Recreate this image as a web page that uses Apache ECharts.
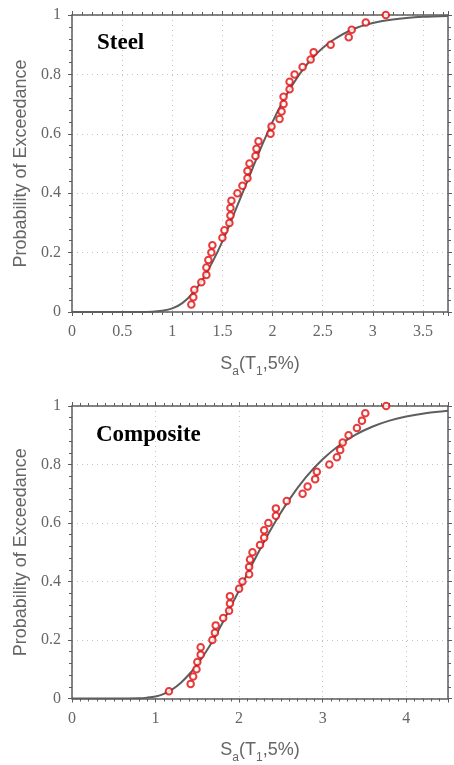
<!DOCTYPE html>
<html>
<head>
<meta charset="utf-8">
<script src="https://cdn.jsdelivr.net/npm/echarts@6/dist/echarts.min.js"></script>
<style>
  html, body { margin: 0; padding: 0; background: #fff; }
  #chart { width: 454px; height: 765px; }
</style>
</head>
<body>
<div id="chart"></div>
<script>
var steelX = [1.19, 1.21, 1.22, 1.29, 1.34, 1.34, 1.36, 1.39, 1.40, 1.50,
  1.52, 1.57, 1.58, 1.58, 1.59, 1.65, 1.70, 1.75, 1.75, 1.77,
  1.83, 1.84, 1.86, 1.98, 1.99, 2.07, 2.09, 2.11, 2.11, 2.17,
  2.17, 2.22, 2.30, 2.38, 2.41, 2.58, 2.76, 2.79, 2.93, 3.13]
var steelY = [0.025, 0.05, 0.075, 0.1, 0.125, 0.15, 0.175, 0.2, 0.225, 0.25,
  0.275, 0.3, 0.325, 0.35, 0.375, 0.4, 0.425, 0.45, 0.475, 0.5,
  0.525, 0.55, 0.575, 0.6, 0.625, 0.65, 0.675, 0.7, 0.725, 0.75,
  0.775, 0.8, 0.825, 0.85, 0.875, 0.9, 0.925, 0.95, 0.975, 1.0]

var compX = [1.16, 1.42, 1.45, 1.49, 1.50, 1.54, 1.54, 1.68, 1.71, 1.72,
  1.81, 1.88, 1.89, 1.89, 2.00, 2.04, 2.12, 2.12, 2.13, 2.16,
  2.25, 2.30, 2.30, 2.35, 2.44, 2.44, 2.57, 2.76, 2.82, 2.91,
  2.93, 3.08, 3.17, 3.21, 3.24, 3.31, 3.41, 3.47, 3.51, 3.76]
var compY = steelY.slice()

// fitted curves
var steelCurveX = [0, 0.5, 0.8, 0.9, 1.0, 1.1, 1.2, 1.3, 1.4, 1.5, 1.6, 1.7, 1.8,
  1.9, 2.0, 2.1, 2.2, 2.3, 2.4, 2.5, 2.6, 2.8, 3.0, 3.2, 3.5, 3.75]
var steelCurveY = [0, 0, 0.001, 0.004, 0.012, 0.03, 0.062, 0.108, 0.168, 0.238, 0.318, 0.4, 0.483,
  0.565, 0.64, 0.707, 0.765, 0.815, 0.856, 0.889, 0.915, 0.952, 0.973, 0.985, 0.994, 0.997]

var compCurveX = [0, 0.5, 0.8, 0.9, 1.0, 1.1, 1.2, 1.3, 1.4, 1.5, 1.6, 1.7, 1.8, 1.9,
  2.0, 2.2, 2.4, 2.6, 2.8, 3.0, 3.2, 3.4, 3.6, 3.8, 4.0, 4.25, 4.5]
var compCurveY = [0, 0, 0.001, 0.003, 0.007, 0.016, 0.031, 0.053, 0.082, 0.117, 0.158, 0.205, 0.258, 0.314,
  0.37, 0.483, 0.588, 0.68, 0.757, 0.818, 0.866, 0.903, 0.93, 0.95, 0.964, 0.976, 0.984]

var panelNames = ['Steel', 'Composite']
var xMax = [3.75, 4.5]
var xStep = [0.5, 1]
var xMinorSplit = [5, 10]

function zip (xs, ys) {
  return xs.map(function (x, i) { return [x, ys[i]] })
}

var axisColor = '#5c5c5c'
var labelFont = { fontFamily: 'Liberation Serif', fontSize: 16, color: '#666' }

function xAxes (g) {
  var common = {
    type: 'value', gridIndex: g, min: 0, max: xMax[g], interval: xStep[g],
    axisLine: { show: true, onZero: false, lineStyle: { color: axisColor, width: 1.5 } },
    axisTick: { show: true, inside: false, length: 4, lineStyle: { color: axisColor } },
    minorTick: { show: true, splitNumber: xMinorSplit[g], length: 3, lineStyle: { color: axisColor } }
  }
  var bottom = Object.assign({}, common, {
    position: 'bottom',
    name: '{m|S}{s|a}{m|(T}{s|1}{m|,5%)}',
    nameLocation: 'middle',
    nameGap: 42,
    nameTextStyle: {
      rich: {
        m: { fontFamily: 'Liberation Sans', fontSize: 18, color: '#666', lineHeight: 20 },
        s: { fontFamily: 'Liberation Sans', fontSize: 12, color: '#666', lineHeight: 20, padding: [15, 0, 0, 0] }
      }
    },
    axisLabel: Object.assign({ margin: 12, showMaxLabel: false }, labelFont),
    splitLine: { show: true, lineStyle: { color: '#c4c4c4', type: [1, 4], width: 1 } }
  })
  var top = Object.assign({}, common, {
    position: 'top', axisLabel: { show: false }, splitLine: { show: false }
  })
  return [bottom, top]
}

function yAxes (g) {
  var common = {
    type: 'value', gridIndex: g, min: 0, max: 1, interval: 0.2,
    axisLine: { show: true, onZero: false, lineStyle: { color: axisColor, width: 1.5 } },
    axisTick: { show: true, inside: false, length: 4, lineStyle: { color: axisColor } },
    minorTick: { show: true, splitNumber: 5, length: 3, lineStyle: { color: axisColor } }
  }
  var left = Object.assign({}, common, {
    position: 'left',
    name: 'Probability of Exceedance',
    nameLocation: 'middle',
    nameGap: 38,
    nameTextStyle: { fontFamily: 'Liberation Sans', fontSize: 18, color: '#666' },
    axisLabel: Object.assign({ margin: 11 }, labelFont),
    splitLine: { show: true, lineStyle: { color: '#c4c4c4', type: [1, 4], width: 1 } }
  })
  var right = Object.assign({}, common, {
    position: 'right', axisLabel: { show: false }, splitLine: { show: false }
  })
  return [left, right]
}

var chart = echarts.init(document.getElementById('chart'), null, { renderer: 'canvas' })

chart.setOption({
  animation: false,
  backgroundColor: '#fff',
  title: [
    { text: panelNames[0], left: 92, top: 27, textStyle: { fontFamily: 'Liberation Serif', fontWeight: 'bold', fontSize: 23, color: '#000' } },
    { text: panelNames[1], left: 91, top: 419, textStyle: { fontFamily: 'Liberation Serif', fontWeight: 'bold', fontSize: 23, color: '#000' } }
  ],
  grid: [
    { left: 72, right: 6, top: 15, height: 297 },
    { left: 72, right: 6, top: 406, height: 297 }
  ],
  xAxis: xAxes(0).concat(xAxes(1)),
  yAxis: yAxes(0).concat(yAxes(1)),
  series: [
    {
      name: 'Steel fit', type: 'line', xAxisIndex: 0, yAxisIndex: 0,
      data: zip(steelCurveX, steelCurveY), showSymbol: false, smooth: 0.3,
      lineStyle: { color: '#5e5e5e', width: 2 }, z: 2
    },
    {
      name: 'Steel', type: 'scatter', xAxisIndex: 0, yAxisIndex: 0,
      data: zip(steelX, steelY), symbol: 'emptyCircle', symbolSize: 6.5,
      itemStyle: { color: '#e20a0a', borderWidth: 2 }, z: 3
    },
    {
      name: 'Composite fit', type: 'line', xAxisIndex: 2, yAxisIndex: 2,
      data: zip(compCurveX, compCurveY), showSymbol: false, smooth: 0.3,
      lineStyle: { color: '#5e5e5e', width: 2 }, z: 2
    },
    {
      name: 'Composite', type: 'scatter', xAxisIndex: 2, yAxisIndex: 2,
      data: zip(compX, compY), symbol: 'emptyCircle', symbolSize: 6.5,
      itemStyle: { color: '#e20a0a', borderWidth: 2 }, z: 3
    }
  ]
})
</script>
</body>
</html>
